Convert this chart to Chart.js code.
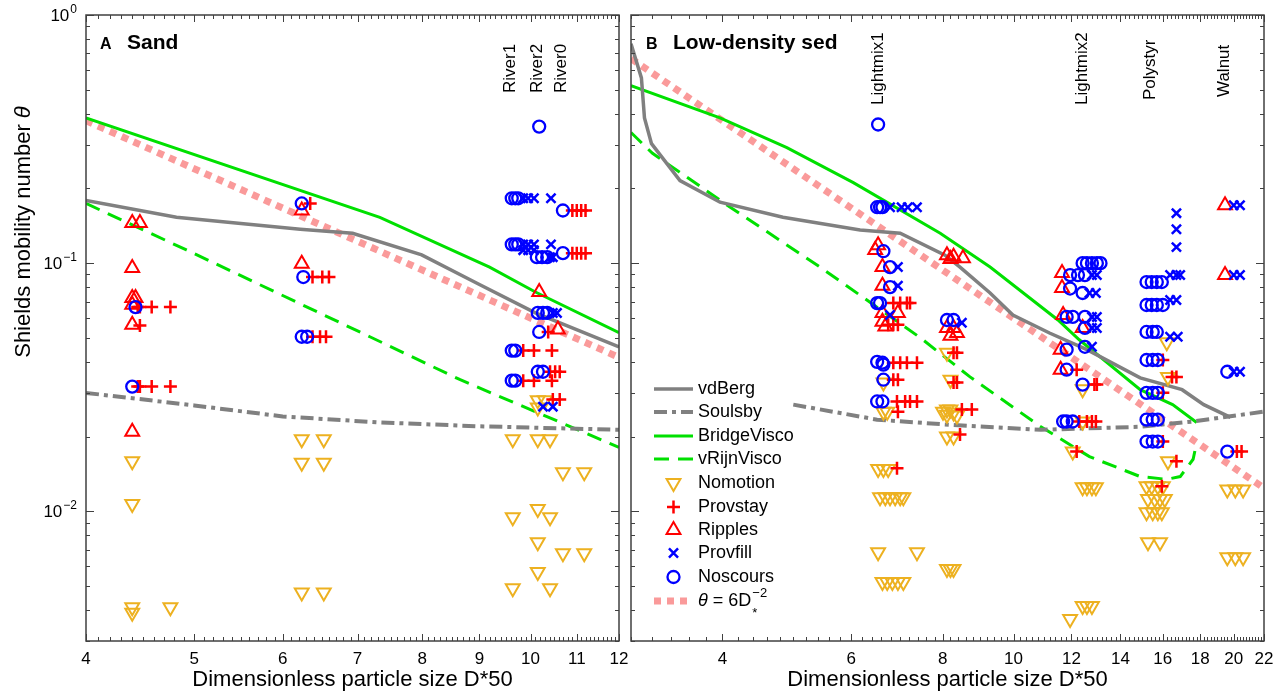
<!DOCTYPE html>
<html>
<head>
<meta charset="utf-8">
<script src="https://cdn.jsdelivr.net/npm/chart.js@4.4.0/dist/chart.umd.min.js"></script>
<style>
  html, body { margin: 0; padding: 0; background: #fff; width: 1285px; height: 700px; overflow: hidden; }
  .panel { position: absolute; top: 0; height: 700px; }
  #wrapA { left: 0; width: 630px; }
  #wrapB { left: 600px; width: 685px; }
</style>
</head>
<body>
<div class="panel" id="wrapA"><canvas id="chartA" width="630" height="700"></canvas></div>
<div class="panel" id="wrapB"><canvas id="chartB" width="685" height="700"></canvas></div>
<script>
// ---------- panel A : sand  [D*50, theta] ----------
const sandNomotion = [[4.40,0.0159],[4.40,0.0107],[4.40,0.0041],[4.40,0.0039],[4.76,0.0041],
  [6.24,0.0195],[6.53,0.0195],[6.24,0.0157],[6.53,0.0157],[6.24,0.0047],[6.53,0.0047],
  [10.15,0.028],[10.3,0.028],[10.15,0.0262],
  [9.64,0.0195],[10.15,0.0195],[10.41,0.0195],[10.69,0.01435],[11.17,0.01435],
  [10.15,0.0102],[9.64,0.00946],[10.41,0.00946],[10.15,0.0075],[10.69,0.00678],[11.17,0.00678],
  [10.15,0.00569],[9.64,0.0049],[10.41,0.0049]];
const sandProvstay = [[4.45,0.0665],[4.47,0.0665],[4.58,0.0665],[4.76,0.0665],[4.47,0.056],
  [4.45,0.0318],[4.47,0.0318],[4.58,0.0318],[4.76,0.0318],
  [6.35,0.174],[6.38,0.0879],[6.51,0.0879],[6.60,0.0879],[6.38,0.0505],[6.48,0.0505],[6.56,0.0505],
  [10.9,0.163],[11.0,0.163],[11.1,0.163],[11.2,0.163],[10.9,0.1097],[11.0,0.1097],[11.1,0.1097],[11.2,0.1097],
  [10.37,0.0528],[9.85,0.0444],[10.07,0.0444],[10.45,0.0444],[10.41,0.0365],[10.52,0.0365],[10.62,0.0365],
  [9.85,0.0336],[10.07,0.0336],[10.45,0.0336],[10.47,0.0282],[10.62,0.0282]];
const sandRipples = [[4.40,0.145],[4.47,0.145],[4.40,0.0955],[4.40,0.0723],[4.43,0.0723],[4.40,0.068],
  [4.40,0.0564],[4.40,0.0209],[6.24,0.163],[6.24,0.0995],[10.18,0.0765],[10.58,0.054]];
const sandProvfill = [[9.85,0.1825],[9.95,0.1825],[10.07,0.1825],[10.43,0.1825],
  [9.85,0.119],[9.95,0.119],[10.07,0.119],[10.43,0.119],[9.85,0.1128],[9.95,0.1128],[10.07,0.1128],
  [10.41,0.1057],[10.47,0.1057],[10.47,0.063],[10.56,0.063],[10.26,0.0264],[10.47,0.0264]];
const sandNoscours = [[4.43,0.0665],[4.40,0.0318],[6.24,0.174],[6.26,0.0879],[6.24,0.0505],[6.31,0.0505],
  [10.18,0.355],[9.62,0.1825],[9.69,0.1825],[9.75,0.1825],[10.69,0.163],
  [9.62,0.119],[9.69,0.119],[9.75,0.119],[10.13,0.1057],[10.24,0.1057],[10.35,0.1057],[10.69,0.1097],
  [10.15,0.063],[10.26,0.063],[10.35,0.063],[10.18,0.0528],[9.62,0.0444],[9.69,0.0444],
  [10.15,0.0365],[10.26,0.0365],[9.62,0.0336],[9.69,0.0336]];

const sandVdBergD = [4.0, 4.82, 6.22, 6.93, 7.99, 9.0, 10.1, 12.0];
const sandVdBergT = [0.179, 0.153, 0.137, 0.132, 0.108, 0.082, 0.063, 0.046];
const sandSoulsbyD = [4.0, 5.0, 6.0, 7.33, 9.0, 12.0];
const sandSoulsbyT = [0.030, 0.0267, 0.0241, 0.0228, 0.0220, 0.0213];
const sandBridgeD = [4.0, 7.33, 9.19, 10.1, 12.0];
const sandBridgeT = [0.385, 0.153, 0.0963, 0.0765, 0.0524];
const sandRijnD = [4.0, 4.92, 7.18, 8.65, 12.0];
const sandRijnT = [0.174, 0.113, 0.0505, 0.0339, 0.0181];
const sandPowerD = [4.0, 12.0];
const sandPowerT = [0.375, 0.0417];

// ---------- panel B : low-density sediment ----------
const lowNomotion = [[6.64,0.033],[6.64,0.0252],[6.72,0.0252],[6.53,0.0148],[6.64,0.0148],[6.74,0.0148],
  [6.57,0.01138],[6.68,0.01138],[6.78,0.01138],[6.89,0.01138],[7.0,0.01138],[7.07,0.01138],
  [6.53,0.00684],[7.38,0.00684],[6.62,0.00519],[6.72,0.00519],[6.83,0.00519],[6.95,0.00519],[7.07,0.00519],
  [8.11,0.0435],[8.2,0.0339],[8.11,0.0257],[8.2,0.0257],[8.28,0.025],[8.37,0.0243],[8.11,0.0245],[8.01,0.0252],
  [8.11,0.020],[8.28,0.020],[8.11,0.00585],[8.2,0.00585],[8.28,0.00585],
  [12.43,0.031],[12.43,0.023],[12.05,0.0174],[12.43,0.0125],[12.6,0.0125],[12.8,0.0125],[12.96,0.0125],
  [11.95,0.00368],[12.43,0.00415],[12.6,0.00415],[12.8,0.00415],
  [16.2,0.048],[16.26,0.0348],[16.26,0.0159],[15.2,0.0126],[15.45,0.0126],[15.75,0.0126],[16.0,0.0126],
  [15.27,0.0112],[15.6,0.0112],[15.86,0.0112],[16.1,0.0112],[15.2,0.0099],[15.5,0.0099],[15.75,0.0099],[15.95,0.0099],
  [15.27,0.0075],[15.86,0.0075],
  [19.6,0.01225],[20.1,0.01225],[20.6,0.01225],[19.6,0.00653],[20.1,0.00653],[20.6,0.00653]];
const lowProvstay = [[6.85,0.069],[7.0,0.069],[7.15,0.069],[7.22,0.069],[6.74,0.0564],[6.85,0.0564],[6.95,0.0564],
  [6.85,0.0397],[7.0,0.0397],[7.15,0.0397],[7.38,0.0397],[6.85,0.0339],[6.95,0.0339],
  [6.93,0.0277],[7.11,0.0277],[7.22,0.0277],[7.38,0.0277],[6.95,0.0252],[6.93,0.0149],
  [8.28,0.0435],[8.37,0.0435],[8.28,0.033],[8.37,0.033],[8.5,0.0257],[8.77,0.0257],[8.45,0.0204],
  [12.2,0.0372],[12.9,0.0324],[13.0,0.0324],[12.3,0.023],[12.6,0.023],[12.8,0.023],[12.96,0.023],[12.2,0.0174],
  [16.47,0.0348],[16.7,0.0348],[16.0,0.0407],[16.0,0.030],[16.0,0.0191],[16.7,0.0159],[15.95,0.0126],
  [20.2,0.0174],[20.5,0.0174]];
const lowRipples = [[6.53,0.118],[6.47,0.113],[6.62,0.0964],[6.62,0.081],[6.62,0.063],[6.95,0.063],
  [6.62,0.058],[6.68,0.0555],
  [8.11,0.1077],[8.2,0.104],[8.28,0.106],[8.53,0.1047],[8.11,0.0548],[8.28,0.0548],[8.37,0.0523],[8.2,0.051],
  [11.65,0.0912],[11.65,0.0794],[11.69,0.0618],[12.43,0.0548],[11.6,0.0448],[11.6,0.0372],
  [19.46,0.171],[19.46,0.0895]];
const lowProvfill = [[6.78,0.168],[7.03,0.168],[7.17,0.168],[7.38,0.168],[6.95,0.0964],[6.95,0.081],[6.78,0.0618],
  [8.5,0.0575],
  [12.8,0.0895],[13.0,0.0895],[12.7,0.0758],[12.96,0.0758],[12.8,0.0607],[13.0,0.0607],[12.8,0.0548],[13.0,0.0548],[12.8,0.046],
  [16.7,0.159],[16.7,0.137],[16.7,0.116],[16.37,0.0895],[16.7,0.0895],[16.9,0.0895],[16.37,0.071],[16.7,0.071],
  [16.37,0.0505],[16.77,0.0505],
  [20.0,0.171],[20.4,0.171],[20.0,0.0895],[20.4,0.0895],[20.0,0.0365],[20.4,0.0365]];
const lowNoscours = [[6.53,0.362],[6.51,0.168],[6.57,0.168],[6.62,0.168],[6.64,0.1117],[6.78,0.0964],[6.78,0.080],
  [6.51,0.069],[6.57,0.069],[6.51,0.040],[6.62,0.0397],[6.64,0.039],[6.64,0.0339],[6.51,0.0277],[6.62,0.0277],
  [8.11,0.059],[8.28,0.059],
  [12.43,0.1],[12.6,0.1],[12.8,0.1],[13.0,0.1],[13.15,0.1],[11.95,0.0895],[12.25,0.0895],[12.52,0.0895],
  [11.95,0.079],[12.43,0.0758],[11.82,0.0607],[12.05,0.0607],[12.52,0.0607],[12.52,0.0548],
  [11.82,0.0448],[12.52,0.046],[11.82,0.0372],[12.43,0.0324],[11.69,0.023],[11.82,0.023],[12.05,0.023],
  [15.2,0.0839],[15.45,0.0839],[15.7,0.0839],[15.95,0.0839],[15.2,0.0678],[15.45,0.0678],[15.7,0.0678],[16.0,0.0678],
  [15.2,0.0528],[15.5,0.0528],[15.7,0.0528],[15.2,0.0407],[15.5,0.0407],[15.75,0.0407],
  [15.2,0.030],[15.5,0.030],[15.75,0.030],[15.2,0.0234],[15.5,0.0234],[15.75,0.0234],
  [15.2,0.0191],[15.5,0.0191],[15.75,0.0191],
  [19.6,0.0365],[19.6,0.0174]];

const lowVdBergD = [3.0, 3.10, 3.13, 3.20, 3.50, 3.97, 4.84, 6.17, 7.00, 8.06, 8.45, 9.29, 9.98, 11.2, 12.6, 14.9, 17.0, 18.2, 19.8];
const lowVdBergT = [0.765, 0.558, 0.385, 0.303, 0.215, 0.176, 0.153, 0.136, 0.132, 0.1077, 0.0964, 0.0758, 0.0618, 0.0523, 0.0448, 0.0345, 0.0309, 0.0269, 0.0239];
const lowSoulsbyD = [5.0, 6.51, 8.2, 10.9, 14.9, 17.6, 22.0];
const lowSoulsbyT = [0.0269, 0.0234, 0.0223, 0.0213, 0.0219, 0.0230, 0.0252];
const lowBridgeD = [3.0, 3.97, 4.90, 6.04, 7.94, 9.29, 11.5, 12.3, 14.9, 16.5, 17.8];
const lowBridgeT = [0.519, 0.385, 0.292, 0.211, 0.132, 0.0964, 0.059, 0.0491, 0.0309, 0.0269, 0.0228];
const lowRijnD = [3.0, 3.21, 4.10, 5.44, 7.46, 8.72, 10.9, 12.7, 14.9, 16.2, 16.9, 17.6, 17.8];
const lowRijnT = [0.336, 0.277, 0.168, 0.0964, 0.050, 0.0348, 0.0219, 0.0166, 0.0138, 0.01345, 0.0138, 0.0162, 0.0189];
const lowPowerD = [3.0, 22.0];
const lowPowerT = [0.667, 0.0124];

// ---------- labels ----------
const sandTickLabels = [4, 5, 6, 7, 8, 9, 10, 11, 12];
const lowTickLabels = [4, 6, 8, 10, 12, 14, 16, 18, 20, 22];
const yTickDecades = [[1, '0'], [0.1, '\u22121'], [0.01, '\u22122']];
const sandRuns = [['River1', 9.59, 93], ['River2', 10.15, 93], ['River0', 10.65, 93]];
const lowRuns = [['Lightmix1', 6.53, 105], ['Lightmix2', 12.4, 105], ['Polystyr', 15.4, 100], ['Walnut', 19.4, 97]];

const FONT = '"Liberation Sans", Arial, Helvetica, sans-serif';
const AXIS = '#404040';
const GRAY = '#808080', GREEN = '#00e000', PINK = '#fa9a9a';

const markerStyle = {
  Noscours: { style: 'circle', rot: 0, r: 6, w: 2.3, color: '#0000ff' },
  Provfill: { style: 'crossRot', rot: 0, r: 6.5, w: 2.5, color: '#0000ff' },
  Ripples:  { style: 'triangle', rot: 0, r: 8, w: 2, color: '#ff0000' },
  Provstay: { style: 'cross', rot: 0, r: 6.5, w: 2.5, color: '#ff0000' },
  Nomotion: { style: 'triangle', rot: 180, r: 8, w: 2, color: '#EDB120' }
};

function markers(arr, kind) {
  const s = markerStyle[kind];
  return {
    label: kind, data: arr.map(([x, y]) => ({ x, y })), showLine: false,
    pointStyle: s.style, pointRotation: s.rot, pointRadius: s.r, pointBorderWidth: s.w,
    pointBorderColor: s.color, pointBackgroundColor: 'rgba(0,0,0,0)', order: 1
  };
}
function curve(D, T, color, width, dash) {
  return {
    data: D.map((d, i) => ({ x: d, y: T[i] })), showLine: true, pointRadius: 0,
    borderColor: color, borderWidth: width, borderDash: dash || [], borderCapStyle: 'butt',
    tension: 0, order: 2
  };
}

function logTicks(min, max) {
  const out = [];
  for (let e = -3; e <= 0; e++) for (let k = 1; k <= 9; k++) {
    const v = k * Math.pow(10, e);
    if (v >= min * 0.999 && v <= max * 1.001) out.push({ v, major: k === 1 });
  }
  return out;
}

function drawFrame(chart, xt, xLabels) {
  const { ctx, chartArea: a, scales: { x, y } } = chart;
  ctx.save();
  ctx.strokeStyle = AXIS; ctx.lineWidth = 1;
  ctx.beginPath();
  xt.forEach(t => {
    const p = Math.round(x.getPixelForValue(t.v)) + 0.5;
    const len = t.major ? 7 : 4;
    ctx.moveTo(p, a.bottom); ctx.lineTo(p, a.bottom - len);
    ctx.moveTo(p, a.top); ctx.lineTo(p, a.top + len);
  });
  logTicks(y.min, y.max).forEach(t => {
    const p = Math.round(y.getPixelForValue(t.v)) + 0.5;
    const len = t.major ? 8 : 4;
    ctx.moveTo(a.left, p); ctx.lineTo(a.left + len, p);
    ctx.moveTo(a.right, p); ctx.lineTo(a.right - len, p);
  });
  ctx.stroke();
  ctx.lineWidth = 1.5;
  ctx.strokeRect(a.left, a.top, a.right - a.left, a.bottom - a.top);
  ctx.fillStyle = '#000';
  ctx.font = '17px ' + FONT; ctx.textAlign = 'center'; ctx.textBaseline = 'top';
  xLabels.forEach(v => ctx.fillText(String(v), x.getPixelForValue(v), a.bottom + 10));
  ctx.font = '22px ' + FONT; ctx.textBaseline = 'alphabetic';
  ctx.fillText('Dimensionless particle size D*50', (a.left + a.right) / 2, 686);
  ctx.restore();
}

function drawRuns(chart, runs) {
  const { ctx, scales: { x } } = chart;
  ctx.save();
  ctx.fillStyle = '#000'; ctx.font = '17px ' + FONT;
  ctx.textAlign = 'left'; ctx.textBaseline = 'middle';
  runs.forEach(([name, d, yb]) => {
    ctx.save(); ctx.translate(x.getPixelForValue(d), yb); ctx.rotate(-Math.PI / 2);
    ctx.fillText(name, 0, 0); ctx.restore();
  });
  ctx.restore();
}

function drawTitle(ctx, letter, text, x0) {
  ctx.save(); ctx.fillStyle = '#000'; ctx.textBaseline = 'alphabetic'; ctx.textAlign = 'left';
  ctx.font = 'bold 16px ' + FONT; ctx.fillText(letter, x0, 49);
  ctx.font = 'bold 21px ' + FONT; ctx.fillText(text, x0 + 27, 49);
  ctx.restore();
}

function legendMarker(ctx, kind, cx, cy) {
  const s = markerStyle[kind];
  ctx.save(); ctx.strokeStyle = s.color; ctx.lineWidth = s.w; ctx.setLineDash([]);
  ctx.beginPath();
  if (s.style === 'triangle') {
    const r = s.r, sg = s.rot ? -1 : 1;
    ctx.moveTo(cx, cy - sg * r);
    ctx.lineTo(cx - r * 0.866, cy + sg * r / 2);
    ctx.lineTo(cx + r * 0.866, cy + sg * r / 2);
    ctx.closePath();
  } else if (s.style === 'cross') {
    ctx.moveTo(cx - s.r, cy); ctx.lineTo(cx + s.r, cy);
    ctx.moveTo(cx, cy - s.r); ctx.lineTo(cx, cy + s.r);
  } else if (s.style === 'crossRot') {
    const q = s.r * 0.7;
    ctx.moveTo(cx - q, cy - q); ctx.lineTo(cx + q, cy + q);
    ctx.moveTo(cx - q, cy + q); ctx.lineTo(cx + q, cy - q);
  } else {
    ctx.arc(cx, cy, s.r, 0, Math.PI * 2);
  }
  ctx.stroke(); ctx.restore();
}

function drawLegend(ctx, off) {
  const x0 = 654 - off, x1 = 693 - off, tx = 698 - off;
  const rows = [
    ['vdBerg', 'line', GRAY, 3.5, []],
    ['Soulsby', 'line', GRAY, 4, [13, 5, 4, 5]],
    ['BridgeVisco', 'line', GREEN, 3, []],
    ['vRijnVisco', 'line', GREEN, 3, [15, 9]],
    ['Nomotion', 'mark'], ['Provstay', 'mark'], ['Ripples', 'mark'], ['Provfill', 'mark'], ['Noscours', 'mark'],
    ['power', 'line', PINK, 7, [7, 6]]
  ];
  const ys = [389, 412, 436, 459, 483, 507, 530, 553, 577, 601];
  ctx.save();
  rows.forEach((r, i) => {
    const y = ys[i];
    if (r[1] === 'line') {
      ctx.save(); ctx.strokeStyle = r[2]; ctx.lineWidth = r[3]; ctx.setLineDash(r[4]);
      ctx.beginPath(); ctx.moveTo(x0, y); ctx.lineTo(x1, y); ctx.stroke(); ctx.restore();
    } else {
      legendMarker(ctx, r[0], (x0 + x1) / 2, y);
    }
    ctx.fillStyle = '#000'; ctx.textAlign = 'left'; ctx.textBaseline = 'middle';
    if (r[0] !== 'power') {
      ctx.font = '18px ' + FONT; ctx.fillText(r[0], tx, y);
    } else {
      ctx.font = 'italic 18px ' + FONT; ctx.fillText('\u03b8', tx, y);
      let xx = tx + ctx.measureText('\u03b8').width;
      ctx.font = '18px ' + FONT; ctx.fillText(' = 6D', xx, y);
      xx += ctx.measureText(' = 6D').width;
      ctx.font = '13px ' + FONT; ctx.fillText('\u22122', xx + 1, y - 8);
      ctx.fillText('*', xx + 1, y + 12);
    }
  });
  ctx.restore();
}

const ticksA = [];
for (let i = 40; i <= 120; i++) ticksA.push({ v: i / 10, major: i % 10 === 0 });
const ticksB = [];
for (let i = 15; i <= 110; i++) ticksB.push({ v: i / 5, major: i % 10 === 0 });

const decorA = {
  id: 'decorA',
  afterDraw(chart) {
    const { ctx, chartArea: a, scales: { y } } = chart;
    drawFrame(chart, ticksA, sandTickLabels);
    drawRuns(chart, sandRuns);
    drawTitle(ctx, 'A', 'Sand', 100);
    ctx.save(); ctx.fillStyle = '#000'; ctx.textBaseline = 'alphabetic'; ctx.textAlign = 'right';
    yTickDecades.forEach(([v, ex]) => {
      const p = y.getPixelForValue(v);
      ctx.font = '12px ' + FONT; ctx.fillText(ex, a.left - 9, p - 2);
      const w = ctx.measureText(ex).width;
      ctx.font = '17px ' + FONT; ctx.fillText('10', a.left - 10 - w, p + 6);
    });
    ctx.translate(24, 232); ctx.rotate(-Math.PI / 2);
    ctx.textAlign = 'left'; ctx.textBaseline = 'middle';
    ctx.font = '22px ' + FONT;
    const t1 = 'Shields mobility number ';
    const w1 = ctx.measureText(t1).width;
    ctx.font = 'italic 22px ' + FONT;
    const w2 = ctx.measureText('\u03b8').width;
    const s = -(w1 + w2) / 2;
    ctx.font = '22px ' + FONT; ctx.fillText(t1, s, 0);
    ctx.font = 'italic 22px ' + FONT; ctx.fillText('\u03b8', s + w1, 0);
    ctx.restore();
  }
};
const decorB = {
  id: 'decorB',
  afterDraw(chart) {
    drawFrame(chart, ticksB, lowTickLabels);
    drawRuns(chart, lowRuns);
    drawTitle(chart.ctx, 'B', 'Low-density sed', 646 - 600);
    drawLegend(chart.ctx, 600);
  }
};

function makeChart(id, xMin, xMax, datasets, pad, plugin) {
  return new Chart(document.getElementById(id), {
    type: 'scatter',
    data: { datasets },
    options: {
      responsive: false, animation: false, events: [],
      layout: { padding: pad },
      scales: {
        x: { type: 'logarithmic', min: xMin, max: xMax, display: false },
        y: { type: 'logarithmic', min: 0.003, max: 1, display: false }
      },
      plugins: { legend: { display: false }, tooltip: { enabled: false } }
    },
    plugins: [plugin]
  });
}

makeChart('chartA', 4, 12, [
  markers(sandNoscours, 'Noscours'), markers(sandProvfill, 'Provfill'), markers(sandRipples, 'Ripples'),
  markers(sandProvstay, 'Provstay'), markers(sandNomotion, 'Nomotion'),
  curve(sandVdBergD, sandVdBergT, GRAY, 3.5),
  curve(sandSoulsbyD, sandSoulsbyT, GRAY, 4, [13, 5, 4, 5]),
  curve(sandBridgeD, sandBridgeT, GREEN, 3),
  curve(sandRijnD, sandRijnT, GREEN, 3, [15, 9]),
  curve(sandPowerD, sandPowerT, PINK, 7, [7, 6])
], { left: 86, right: 11, top: 15, bottom: 59 }, decorA);

makeChart('chartB', 3, 22, [
  markers(lowNoscours, 'Noscours'), markers(lowProvfill, 'Provfill'), markers(lowRipples, 'Ripples'),
  markers(lowProvstay, 'Provstay'), markers(lowNomotion, 'Nomotion'),
  curve(lowVdBergD, lowVdBergT, GRAY, 3.5),
  curve(lowSoulsbyD, lowSoulsbyT, GRAY, 4, [13, 5, 4, 5]),
  curve(lowBridgeD, lowBridgeT, GREEN, 3),
  curve(lowRijnD, lowRijnT, GREEN, 3, [15, 9]),
  curve(lowPowerD, lowPowerT, PINK, 7, [7, 6])
], { left: 31, right: 21, top: 15, bottom: 59 }, decorB);
</script>
</body>
</html>
